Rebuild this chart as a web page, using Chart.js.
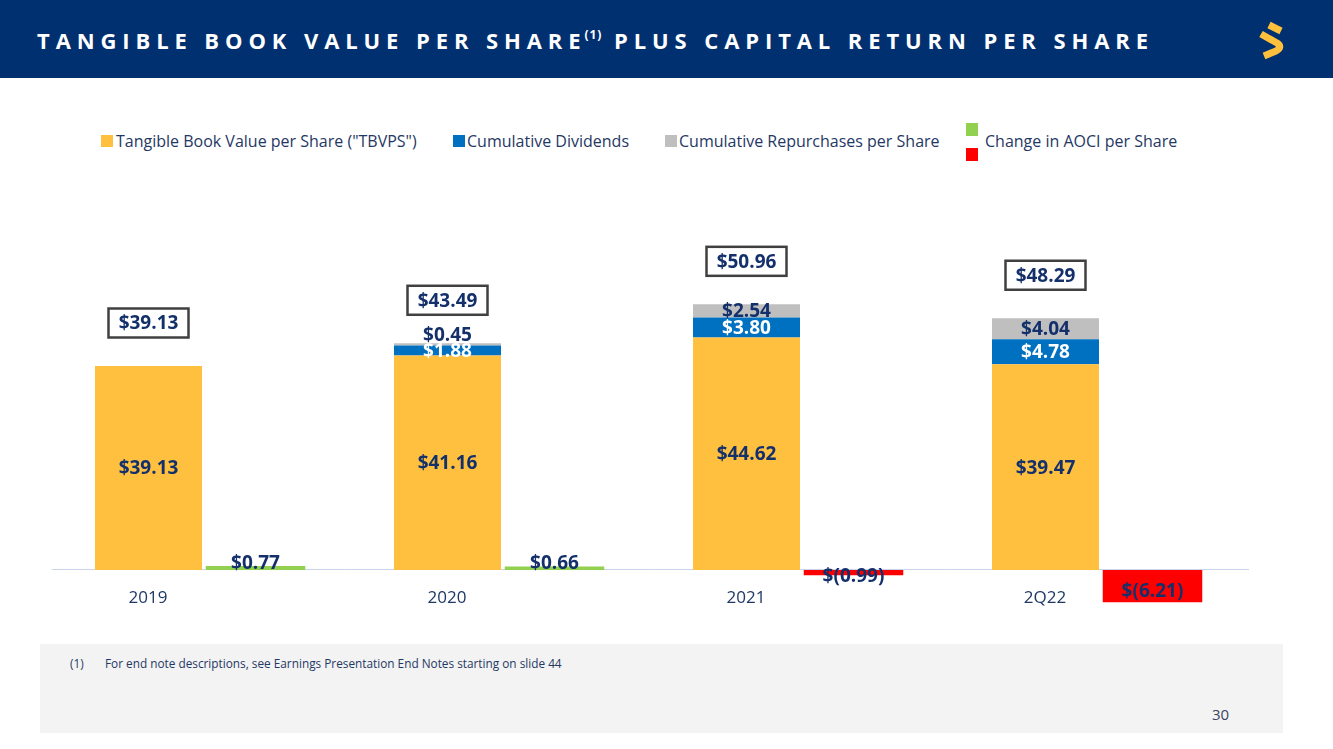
<!DOCTYPE html>
<html><head><meta charset="utf-8">
<script src="https://cdn.jsdelivr.net/npm/chart.js@4.4.1/dist/chart.umd.min.js"></script>
<style>
html,body{margin:0;padding:0;width:1333px;height:749px;overflow:hidden;background:#fff;font-family:"Open Sans",sans-serif;}
#hdr{position:absolute;left:0;top:0;width:1333px;height:78px;background:#00306f;}
#title{position:absolute;left:37px;top:25px;color:#fff;font-weight:700;font-size:22px;letter-spacing:5.9px;white-space:nowrap;line-height:30px;}
#title sup{font-size:12px;letter-spacing:1px;vertical-align:top;position:relative;top:-5px;margin-left:-2px;}
#logo{position:absolute;left:0;top:0;}
.sq{position:absolute;width:12px;height:12px;}
.lt{position:absolute;font-size:16px;line-height:20px;color:#1f3864;white-space:nowrap;}
#wrap{position:absolute;left:0;top:180px;width:1333px;height:460px;}
#foot{position:absolute;left:40px;top:644px;width:1243px;height:89px;background:#f3f3f3;}
.fn{position:absolute;font-size:11.8px;color:#1f3864;top:655px;line-height:16px;white-space:nowrap;}
#pg{position:absolute;left:1212px;top:704px;font-size:15px;color:#3b4566;}
</style>
</head><body>
<div id="hdr"><div id="title">TANGIBLE BOOK VALUE PER SHARE<sup>(1)</sup> PLUS CAPITAL RETURN PER SHARE</div></div>
<svg id="logo" width="1333" height="78" viewBox="0 0 1333 78">
  <path d="M1269,25 L1281,31" stroke="#ffc13b" stroke-width="7" fill="none"/>
  <path d="M1261,34 L1277,43 Q1283,47 1276,51 L1264,56" stroke="#ffc13b" stroke-width="7" fill="none" stroke-linejoin="round"/>
</svg>
<div class="sq" style="left:101px;top:135px;background:#ffc040"></div>
<div class="lt" style="left:116px;top:131px">Tangible Book Value per Share ("TBVPS")</div>
<div class="sq" style="left:453px;top:135px;background:#0070c0"></div>
<div class="lt" style="left:467px;top:131px">Cumulative Dividends</div>
<div class="sq" style="left:665px;top:135px;background:#bfbfbf"></div>
<div class="lt" style="left:679px;top:131px">Cumulative Repurchases per Share</div>
<div class="sq" style="left:966px;top:123px;height:13px;background:#92d050"></div>
<div class="sq" style="left:966px;top:148px;height:13px;background:#ff0000"></div>
<div class="lt" style="left:985px;top:131px">Change in AOCI per Share</div>
<div id="wrap"><canvas id="c"></canvas></div>
<div id="foot"></div>
<div class="fn" style="left:70px">(1)</div>
<div class="fn" style="left:105px">For end note descriptions, see Earnings Presentation End Notes starting on slide 44</div>
<div id="pg">30</div>
<script>
const categories = ['2019', '2020', '2021', '2Q22'];
const tbvps = [39.13, 41.16, 44.62, 39.47];
const dividends = [0, 1.88, 3.80, 4.78];
const repurchases = [0, 0.45, 2.54, 4.04];
const aociChange = [0.77, 0.66, -0.99, -6.21];

const NAVY = '#14306b';
const fmt = v => v < 0 ? '$(' + Math.abs(v).toFixed(2) + ')' : '$' + v.toFixed(2);

const labelPlugin = {
  id: 'valueLabels',
  afterDatasetsDraw(chart) {
    const ctx = chart.ctx;
    ctx.save();
    ctx.font = '700 19px "Open Sans"';
    ctx.textAlign = 'center';
    chart.data.datasets.forEach((ds, di) => {
      const meta = chart.getDatasetMeta(di);
      meta.data.forEach((el, i) => {
        const v = ds.data[i];
        if (!v) return;
        const p = el.getProps(['x', 'y', 'base'], true);
        const top = Math.min(p.y, p.base), bot = Math.max(p.y, p.base), h = bot - top;
        ctx.fillStyle = ds.labelColor;
        if (ds.stack === 'aoci') {
          if (v > 0) { ctx.textBaseline = 'alphabetic'; ctx.fillText(fmt(v), p.x, p.base - 1); }
          else if (h > 25) { ctx.textBaseline = 'middle'; ctx.fillText(fmt(v), p.x, (top + bot) / 2 + 5); }
          else { ctx.textBaseline = 'top'; ctx.fillText(fmt(v), p.x, p.base - 3); }
        } else if (h < 8) {
          ctx.textBaseline = 'alphabetic'; ctx.fillText(fmt(v), p.x, top - 2);
        } else {
          ctx.textBaseline = 'middle'; ctx.fillText(fmt(v), p.x, (top + bot) / 2 + 1);
        }
      });
    });
    const yS = chart.scales.y;
    const m0 = chart.getDatasetMeta(0);
    categories.forEach((c, i) => {
      const total = tbvps[i] + dividends[i] + repurchases[i];
      const top = yS.getPixelForValue(total);
      const x = m0.data[i].x;
      const cy = top - 43;
      const w = 80, h = 29;
      ctx.fillStyle = '#ffffff';
      ctx.fillRect(x - w / 2, cy - h / 2, w, h);
      ctx.strokeStyle = '#404040';
      ctx.lineWidth = 2.5;
      ctx.strokeRect(x - w / 2, cy - h / 2, w, h);
      ctx.fillStyle = NAVY;
      ctx.textBaseline = 'middle';
      ctx.fillText(fmt(total), x, cy + 1);
    });
    ctx.restore();
  }
};

new Chart(document.getElementById('c'), {
  type: 'bar',
  data: {
    labels: categories,
    datasets: [
      { label: 'Tangible Book Value per Share ("TBVPS")', data: tbvps, backgroundColor: '#ffc040', stack: 'main', labelColor: NAVY, barPercentage: 1, categoryPercentage: 0.7157 },
      { label: 'Cumulative Dividends', data: dividends, backgroundColor: '#0070c0', stack: 'main', labelColor: '#ffffff', barPercentage: 1, categoryPercentage: 0.7157 },
      { label: 'Cumulative Repurchases per Share', data: repurchases, backgroundColor: '#bfbfbf', stack: 'main', labelColor: NAVY, barPercentage: 1, categoryPercentage: 0.7157 },
      { label: 'Change in AOCI per Share', data: aociChange, backgroundColor: aociChange.map(v => v >= 0 ? '#92d050' : '#ff0000'), stack: 'aoci', labelColor: NAVY, barPercentage: 0.93, categoryPercentage: 0.7157 }
    ]
  },
  options: {
    responsive: true,
    maintainAspectRatio: false,
    animation: false,
    layout: { padding: { top: 77.2, bottom: 28.3, left: 52.5, right: 84.5 } },
    plugins: { legend: { display: false }, tooltip: { enabled: false }, title: { display: false } },
    scales: {
      x: {
        axis: 'x',
        type: 'category',
        position: { y: 0 },
        grid: { display: false, drawTicks: false },
        border: { display: true, color: '#c9d4ec', width: 1 },
        ticks: { color: '#1f3864', font: { family: 'Open Sans', size: 17 }, padding: 18, labelOffset: -54, autoSkip: false, maxRotation: 0 },
        afterFit(s) { s.height = 0; }
      },
      y: { display: false, stacked: true, min: -8, max: 60 }
    }
  },
  plugins: [labelPlugin]
});
</script>
</body></html>
